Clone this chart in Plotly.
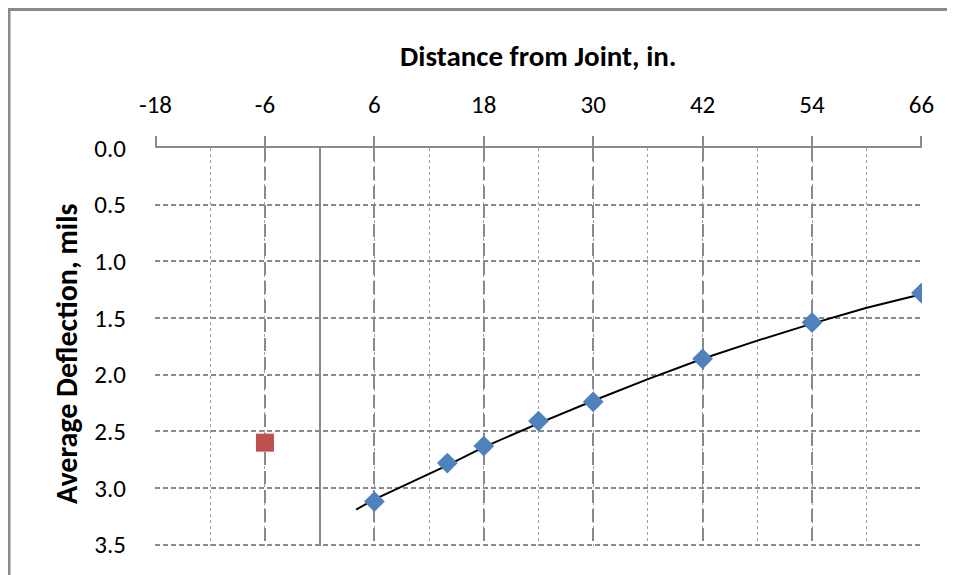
import plotly.graph_objects as go

dist_in = [6, 14, 18, 24, 30, 42, 54, 66]
defl_mils = [3.12, 2.78, 2.63, 2.41, 2.24, 1.86, 1.54, 1.28]

# point on the other side of the joint
other_dist = [-6]
other_defl = [2.60]

# trendline as drawn in the original
trend_dist = [4, 6, 10, 14, 18, 24, 30, 36, 42, 48, 54, 60, 66]
trend_defl = [3.19, 3.10, 2.95, 2.80, 2.64, 2.43, 2.23, 2.04, 1.86, 1.70, 1.55, 1.41, 1.29]

x_ticks = [-18, -6, 6, 18, 30, 42, 54, 66]
y_ticks = [0.0, 0.5, 1.0, 1.5, 2.0, 2.5, 3.0, 3.5]

FONT = "Carlito, Calibri, 'Liberation Sans', sans-serif"
GRID = '#8a8a8a'

# the page puts the figure 8px in from the window corner, so the plot area
# (window px 155..922 across, 148..546 down) is set with that in mind
L, T, PW, PH = 147, 140, 767, 398


def px(x):
    return (x - 155) / PW


def py(y):
    return (546 - y) / PH


fig = go.Figure()
fig.add_trace(go.Scatter(
    x=trend_dist, y=trend_defl, mode='lines',
    line=dict(color='black', width=2), hoverinfo='skip',
))
fig.add_trace(go.Scatter(
    x=dist_in, y=defl_mils, mode='markers',
    marker=dict(symbol='diamond', size=16, color='#4f81bd'),
))
fig.add_trace(go.Scatter(
    x=other_dist, y=other_defl, mode='markers',
    marker=dict(symbol='square', size=18, color='#c0504d'),
))

fig.update_layout(
    width=955,
    height=575,
    margin=dict(l=L, r=955 - L - PW, t=T, b=575 - T - PH),
    paper_bgcolor='white',
    plot_bgcolor='white',
    showlegend=False,
    font=dict(family=FONT, size=25, color='black'),
    xaxis=dict(
        side='top',
        range=[-18.06, 66.06],
        tickvals=x_ticks,
        ticktext=[str(v) for v in x_ticks],
        ticks='outside', ticklen=10, tickcolor=GRID, tickwidth=2,
        ticklabelstandoff=13,
        showline=True, linecolor=GRID, linewidth=2,
        showgrid=True, gridcolor=GRID, gridwidth=2, griddash='13px,6px',
        minor=dict(dtick=6, tick0=-18, showgrid=True, gridcolor='#a0a0a0',
                   gridwidth=1, griddash='dot'),
        zeroline=True, zerolinecolor=GRID, zerolinewidth=2,
    ),
    yaxis=dict(
        range=[3.512, 0],
        tickvals=y_ticks,
        ticktext=[f'{v:.1f}' for v in y_ticks],
        ticklabelstandoff=28,
        showline=False,
        showgrid=True, gridcolor=GRID, gridwidth=2, griddash='5px,3px',
        zeroline=False,
    ),
    annotations=[
        dict(text='<b>Distance from Joint, in.</b>', font=dict(size=29),
             xref='paper', yref='paper', x=px(538), y=py(56),
             xanchor='center', yanchor='middle', showarrow=False),
        dict(text='<b>Average Deflection, mils</b>', font=dict(size=30),
             textangle=-90, xref='paper', yref='paper',
             x=px(66), y=py(354), xanchor='center', yanchor='middle',
             showarrow=False),
    ],
    shapes=[dict(
        type='rect', xref='paper', yref='paper',
        x0=px(9), x1=px(952), y0=py(600), y1=py(9.5),
        line=dict(color=GRID, width=3), layer='above',
    )],
)

fig.write_html("out.html")
